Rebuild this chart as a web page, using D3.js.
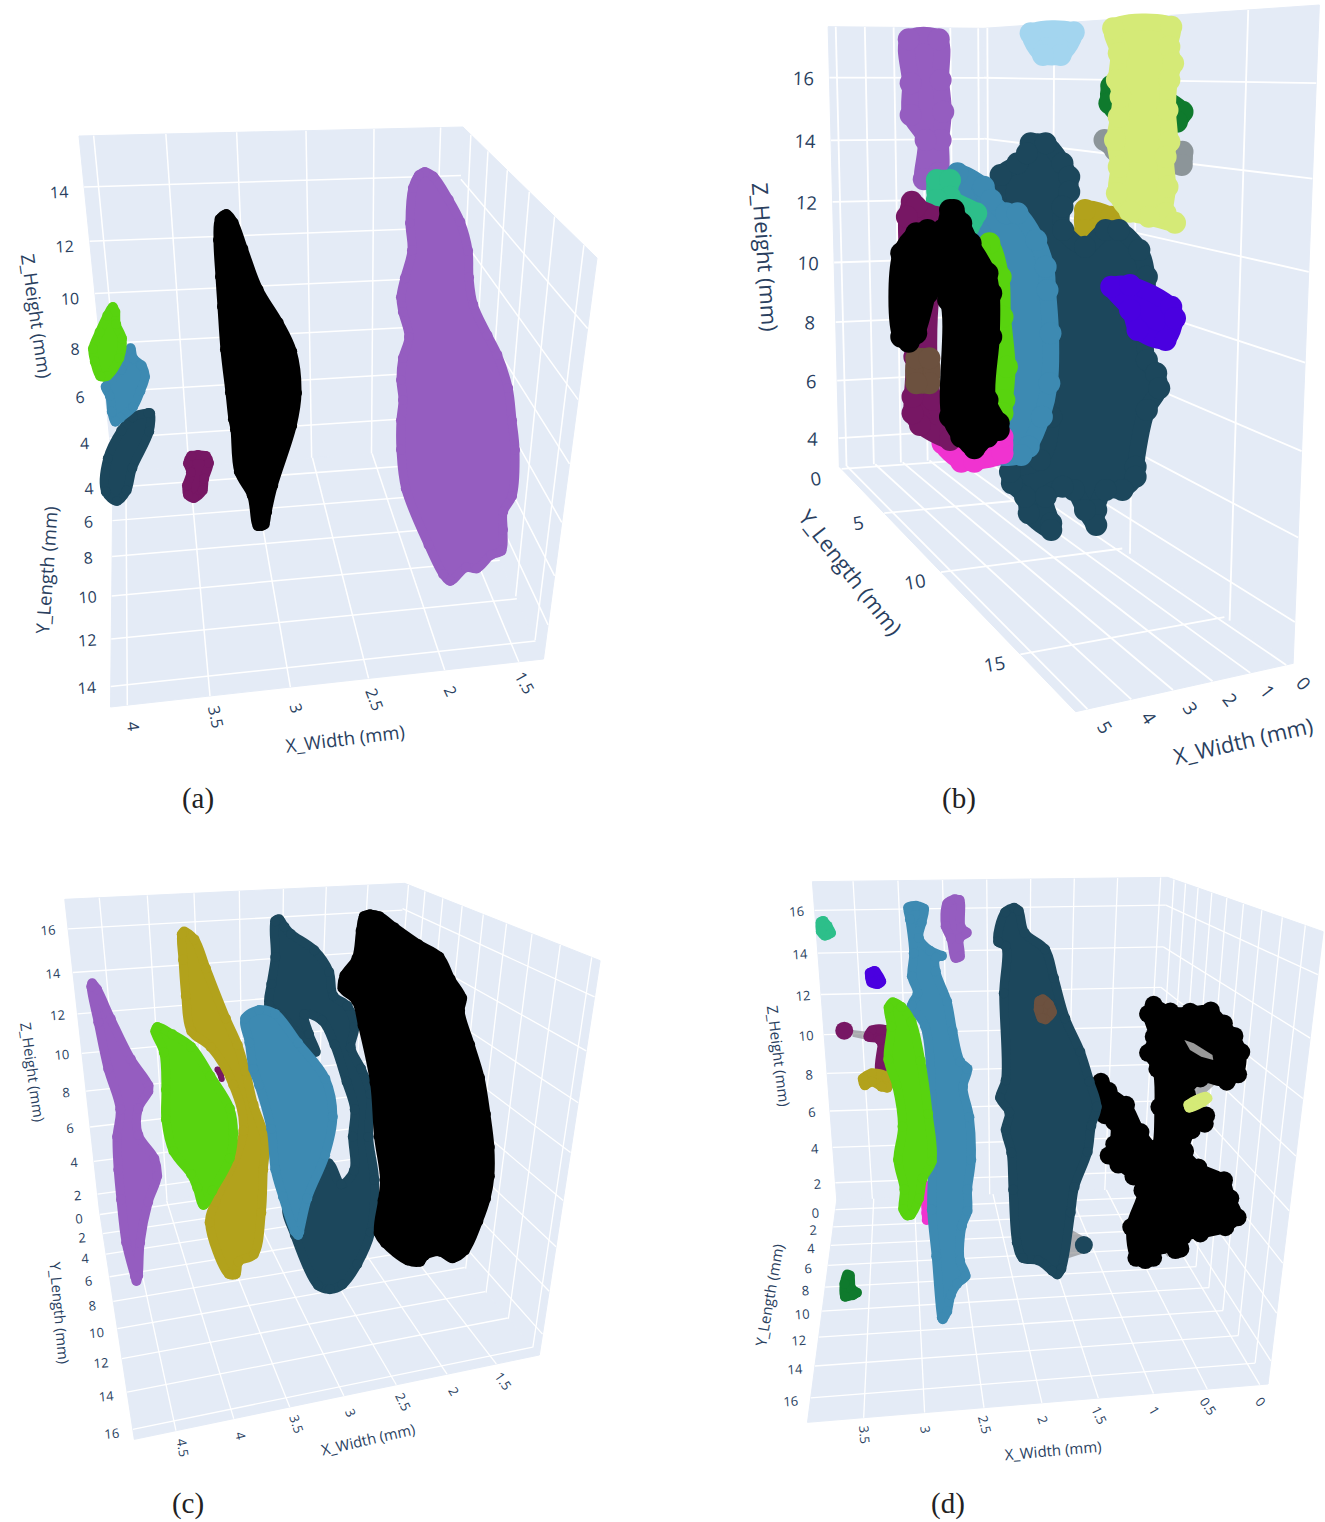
<!DOCTYPE html>
<html>
<head>
<meta charset="utf-8">
<style>
  body { margin: 0; background: #fff; }
  svg { display: block; }
  text { font-family: "Open Sans", sans-serif; fill: #2a3f5f; }
  .caption { font-family: "Liberation Serif", serif; fill: #222; font-size: 29px; }
</style>
<script src="https://cdn.jsdelivr.net/npm/d3@7"></script>
</head>
<body>
<div id="chart"></div>
<script>
// tick values, one list per axis
var xTicksA = [4, 3.5, 3, 2.5, 2, 1.5]
var yTicksA = [4, 6, 8, 10, 12, 14]
var zTicksA = [4, 6, 8, 10, 12, 14]
var xTicksB = [5, 4, 3, 2, 1, 0]
var yTicksB = [0, 5, 10, 15]
var zTicksB = [4, 6, 8, 10, 12, 14, 16]
var xTicksC = [4.5, 4, 3.5, 3, 2.5, 2, 1.5]
var yTicksC = [0, 2, 4, 6, 8, 10, 12, 14, 16]
var zTicksC = [2, 4, 6, 8, 10, 12, 14, 16]
var xTicksD = [3.5, 3, 2.5, 2, 1.5, 1, 0.5, 0]
var yTicksD = [0, 2, 4, 6, 8, 10, 12, 14, 16]
var zTicksD = [2, 4, 6, 8, 10, 12, 14, 16]

// colours of the clusters
var purple = "#955dc0", black = "#000000", lime = "#58d30f", blue = "#3d8ab2", navy = "#1c475c"
var maroon = "#771764", olive = "#b2a21c", teal = "#2dbf8a", pale = "#d5ea77", sky = "#a3d5ef"
var forest = "#0f7a2d", grey = "#8c9599", indigo = "#4a00e0", brown = "#6c513f", magenta = "#f033d0"

// cluster outlines (panel a in page pixels)
var purpleA = [[425,167],[437,173],[453,197],[465,220],[473,250],[474,277],[478,303],[492,333],[502,353],[513,387],[517,420],[520,450],[517,497],[508,513],[508,530],[506,553],[494,559],[479,573],[468,572],[451,586],[439,577],[424,547],[401,490],[396,450],[396,420],[398,400],[396,380],[398,357],[404,337],[398,313],[396,297],[400,277],[407,250],[405,223],[408,187],[415,172]]
var blackA = [[227,209],[238,220],[248,247],[263,287],[283,320],[297,350],[302,393],[297,427],[278,487],[272,513],[269,527],[262,531],[253,528],[247,497],[234,473],[230,430],[228,420],[225,393],[220,350],[217,307],[215,277],[213,240],[215,217]]
var limeA = [[112,302],[120,310],[121,323],[127,338],[124,360],[110,380],[97,380],[90,363],[88,348],[95,330],[103,313]]
var blueA = [[128,344],[137,355],[146,363],[150,377],[145,393],[137,410],[123,422],[113,426],[107,413],[105,397],[101,385],[117,367]]
var navyA = [[155,412],[148,408],[130,413],[117,428],[103,457],[101,493],[117,506],[131,493],[137,470],[154,433]]
var maroonA = [[198,450],[209,452],[214,463],[209,480],[207,493],[195,503],[184,498],[182,485],[186,472],[183,463],[188,452]]

// panel b, reading units of the upper right crop, marker centres
var purpleB = [[450,118],[530,118],[535,240],[542,335],[535,420],[530,520],[490,538],[495,420],[455,345],[455,250]]
var skyB = [[775,100],[890,97],[855,165],[808,165]]
var forestB = [[990,258],[1050,258],[1180,335],[1165,365],[1010,345],[985,310]]
var greyB = [[972,420],[1180,455],[1178,495],[1000,450]]
var paleB = [[995,85],[1150,80],[1145,140],[1155,190],[1145,240],[1140,330],[1145,425],[1135,470],[1140,560],[1135,640],[1160,668],[1090,650],[1040,635],[1005,580],[1010,500],[1000,420],[1010,350],[1015,290],[1005,240],[1010,160]]
var goldB = [[920,630],[990,650],[1000,680],[920,690]]
var navyB = [[775,430],[815,430],[860,490],[878,530],[878,575],[860,620],[862,690],[920,740],[975,690],[1010,690],[1065,750],[1085,830],[1085,1080],[1110,1120],[1118,1165],[1085,1230],[1055,1400],[1055,1430],[1020,1470],[975,1470],[950,1530],[950,1575],[920,1530],[890,1470],[860,1460],[815,1490],[830,1570],[830,1590],[770,1540],[760,1490],[725,1450],[720,1415],[800,1380],[830,1250],[720,700],[690,625],[695,525],[740,490],[765,460]]
var blueB = [[580,520],[650,560],[670,600],[710,640],[740,640],[790,720],[815,800],[820,870],[828,1000],[825,1150],[805,1250],[770,1340],[750,1365],[680,1365],[650,1300],[640,700]]
var tealB = [[525,540],[560,540],[560,590],[630,640],[610,680],[525,600]]
var indigoB = [[990,860],[1040,855],[1150,920],[1160,955],[1135,1020],[1060,990],[1040,930]]
var magentaB = [[540,1330],[590,1385],[625,1385],[700,1360],[700,1310],[600,1300]]
var maroonB = [[458,605],[470,620],[520,650],[530,800],[510,880],[515,1200],[560,1300],[560,1320],[480,1275],[460,1240],[460,1190],[465,1070],[445,650]]
var brownB = [[470,1075],[505,1075],[505,1150],[470,1150]]
var limeB = [[665,730],[695,830],[700,950],[712,1100],[705,1200],[700,1240],[650,1200],[640,750]]
var blackB = [[570,630],[590,670],[615,730],[660,820],[670,880],[670,1010],[660,1200],[690,1270],[690,1290],[660,1310],[625,1345],[590,1310],[560,1250],[555,900],[510,830],[500,880],[470,1000],[450,1025],[430,1010],[430,760],[470,700],[500,690],[540,690],[560,630]]

// panel c, reading units of the lower left crop
var purpleC = [[232,325],[255,350],[290,440],[340,560],[385,640],[385,670],[360,720],[360,790],[400,860],[408,920],[385,1000],[365,1120],[360,1220],[345,1248],[328,1225],[305,1120],[292,990],[285,900],[282,800],[290,720],[260,600],[235,460],[217,350]]
var oliveC = [[465,170],[500,200],[530,290],[580,440],[610,520],[630,600],[650,700],[680,810],[675,900],[670,1030],[650,1160],[610,1185],[600,1225],[565,1220],[515,1060],[530,990],[600,780],[575,650],[520,540],[470,490],[455,380],[448,270],[445,190]]
var maroonC = [[540,595],[560,595],[565,630],[550,625]]
var limeC = [[395,456],[440,480],[490,520],[540,610],[590,710],[600,790],[590,870],[545,970],[510,1020],[485,960],[470,920],[425,850],[405,750],[405,660],[400,550],[378,485]]
var navyC = [[705,133],[725,160],[740,180],[800,230],[840,300],[850,370],[885,400],[905,470],[895,530],[920,590],[945,670],[940,800],[955,930],[945,1090],[910,1190],[870,1255],[830,1273],[790,1255],[730,1100],[710,1000],[780,900],[830,865],[865,930],[878,900],[875,800],[880,720],[860,640],[830,530],[800,460],[778,438],[790,490],[790,560],[700,450],[665,410],[670,340],[680,260],[680,150]]
var blueC = [[650,405],[700,420],[760,510],[830,620],[850,740],[830,860],[785,990],[765,1090],[750,1110],[730,1090],[700,985],[680,900],[670,780],[640,650],[625,600],[615,520],[605,440]]
var blackC = [[930,118],[960,125],[1000,160],[1060,210],[1115,250],[1145,320],[1175,380],[1170,420],[1195,520],[1220,620],[1235,730],[1245,830],[1245,920],[1235,990],[1215,1060],[1180,1150],[1140,1180],[1105,1160],[1075,1170],[1060,1190],[1020,1185],[960,1130],[940,1090],[950,990],[955,930],[940,800],[930,640],[900,470],[885,400],[850,360],[855,310],[885,260],[895,180],[905,130]]

// panel d, reading units of the lower right crop
var tealD = [[225,168],[245,190],[255,225],[225,242],[203,220],[203,180]]
var indigoD = [[355,318],[372,325],[390,365],[370,387],[340,377],[333,335]]
var purpleD = [[570,103],[598,115],[603,200],[618,220],[598,240],[598,297],[565,304],[550,240],[535,200],[540,125]]
var blueD = [[470,122],[503,140],[498,190],[490,230],[515,260],[550,280],[535,298],[535,330],[565,420],[580,510],[600,600],[620,625],[608,680],[625,770],[630,900],[620,990],[620,1055],[605,1100],[600,1200],[615,1250],[590,1280],[575,1310],[565,1360],[545,1392],[525,1375],[510,1190],[498,1050],[500,900],[480,500],[445,440],[460,400],[445,350],[450,280],[440,180],[437,135]]
var limeD = [[405,412],[440,430],[470,480],[495,600],[515,760],[525,905],[500,960],[490,1020],[465,1075],[440,1080],[422,1050],[425,990],[408,900],[420,800],[405,680],[382,600],[390,500],[383,440]]
var magentaD = [[490,1000],[505,970],[510,1060],[498,1095],[488,1060]]
var maroonD = [[345,498],[395,498],[395,540],[385,640],[365,640],[360,545],[330,535]]
var oliveD = [[315,650],[350,625],[400,640],[405,690],[375,695],[350,680],[325,688]]
var navyD = [[730,128],[755,145],[770,210],[825,260],[850,350],[880,470],[920,570],[945,660],[965,740],[950,800],[940,880],[905,985],[895,1060],[870,1230],[850,1258],[825,1245],[790,1215],[745,1205],[725,1150],[715,990],[710,880],[695,810],[705,760],[680,715],[695,660],[690,400],[695,260],[675,245],[695,150]]
var brownD = [[810,403],[835,425],[845,460],[820,492],[795,485],[783,450],[787,415]]
var blackD = [[950,660],[990,680],[1040,725],[1080,810],[1095,860],[1105,740],[1100,630],[1075,580],[1090,530],[1075,460],[1100,420],[1150,440],[1200,440],[1260,437],[1300,480],[1330,520],[1350,575],[1340,650],[1300,680],[1230,670],[1205,700],[1255,760],[1250,800],[1215,820],[1200,870],[1230,910],[1300,950],[1320,1010],[1340,1075],[1300,1115],[1230,1135],[1190,1140],[1185,1175],[1160,1185],[1130,1170],[1110,1205],[1080,1215],[1045,1200],[1030,1100],[1060,990],[1040,960],[1000,925],[970,890],[985,850],[985,790],[960,770]]
var paleD = [[1185,725],[1240,695],[1260,715],[1240,740],[1195,758]]
var forestD = [[290,1230],[305,1240],[310,1280],[325,1300],[305,1320],[270,1320],[265,1270],[275,1235]]
var navyDotD = [917, 1155]
var maroonDotD = [278, 512]
var meshD = [[[885,1110],[917,1130],[917,1180],[875,1195]], [[1205,680],[1275,665],[1240,700],[1200,710]], [[300,510],[340,515],[340,540],[300,530]], [[1130,1175],[1210,1135],[1190,1155],[1140,1190]]]
var holeD = [[[1185,540],[1210,550],[1260,585],[1262,600],[1230,590],[1200,570]]]

var panels = [
  { name: "(a)", caption: [198, 798],
    uDomain: [0, 1325], uRange: [0, 1325], vDomain: [0, 1522], vRange: [0, 1522],
    back: [[79,136],[463,127],[450,448],[113,472]], side: [[463,127],[597,258],[543.5,659],[450,448]], floor: [[113,472],[450,448],[543.5,659],[110.5,707]],
    xDomain: [4.1, 1.33], yDomain: [3, 14.8], zDomain: [15.8, 2.5],
    xTicks: xTicksA, yTicks: yTicksA, zTicks: zTicksA,
    xOff: [6, 21], yOff: [-24, 1], zOff: [-25, 5], xAngle: [82, 60], yAngle: -4, zAngle: -3, tickSize: 16, gridWidth: 1.5,
    titles: [["Z_Height (mm)", 37, 316, 82, 18.5], ["Y_Length (mm)", 46, 570, -86, 18.5], ["X_Width (mm)", 345, 738, -7, 18.5]],
    r: 5, bump: 0.5, inset: true,
    blobs: [[navyA, navy], [blueA, blue], [limeA, lime], [maroonA, maroon], [blackA, black], [purpleA, purple]] },
  { name: "(b)", caption: [959, 798],
    uDomain: [0, 1560], uRange: [740, 1325], vDomain: [0, 2430], vRange: [0, 810],
    back: [[235,80],[650,85],[655,1370],[265,1400]], side: [[650,85],[1545,15],[1475,1990],[655,1370]], floor: [[265,1400],[655,1370],[1475,1990],[895,2135]],
    xDomain: [5.26, -0.2], yDomain: [-0.3, 17.6], zDomain: [17.6, 3],
    xTicks: xTicksB, yTicks: yTicksB, zTicks: zTicksB,
    xOff: [18, 18], yOff: [-26, 9], zOff: [-26, 0], xAngle: [58, 50], yAngle: -10, zAngle: 2, tickSize: 18.5, gridWidth: 1.8,
    titles: [["Z_Height (mm)", 766, 257, 86, 22], ["Y_Length (mm)", 851, 572, 52, 22], ["X_Width (mm)", 1243, 740, -13, 22]],
    r: 11, bump: 2.5, inset: false,
    blobs: [[purpleB, purple], [skyB, sky], [forestB, forest], [greyB, grey], [goldB, olive], [paleB, pale], [navyB, navy], [blueB, blue], [tealB, teal], [indigoB, indigo], [magentaB, magenta], [maroonB, maroon], [brownB, brown], [limeB, lime], [blackB, black]] },
  { name: "(c)", caption: [188, 1503],
    uDomain: [0, 1560], uRange: [0, 620], vDomain: [0, 1956], vRange: [870, 1522],
    back: [[163,88],[1018,40],[960,900],[250,1020]], side: [[1018,40],[1510,272],[1357,1455],[960,900]], floor: [[250,1020],[960,900],[1357,1455],[338,1708]],
    xDomain: [4.85, 1.05], yDomain: [-0.5, 16.5], zDomain: [17.3, 1],
    xTicks: xTicksC, yTicks: yTicksC, zTicks: zTicksC,
    xOff: [7, 17], yOff: [-21, 4], zOff: [-20, 1], xAngle: [80, 55], yAngle: -5, zAngle: -5, tickSize: 13, gridWidth: 1.3,
    titles: [["Z_Height (mm)", 33, 1072, 82, 14.8], ["Y_Length (mm)", 60, 1313, 85, 14.8], ["X_Width (mm)", 368, 1439, -13, 14.8]],
    r: 5, bump: 0.5, inset: true,
    blobs: [[purpleC, purple], [maroonC, maroon, 3], [oliveC, olive], [navyC, navy], [blackC, black], [blueC, blue], [limeC, lime]] },
  { name: "(d)", caption: [948, 1503],
    uDomain: [0, 1560], uRange: [740, 1325], vDomain: [0, 1986], vRange: [860, 1522],
    back: [[193,65],[1140,52],[1090,985],[258,1020]], side: [[1140,52],[1555,215],[1408,1572],[1090,985]], floor: [[258,1020],[1090,985],[1408,1572],[180,1687]],
    xDomain: [3.95, -0.08], yDomain: [-1.2, 17.4], zDomain: [17.3, 1],
    xTicks: xTicksD, yTicks: yTicksD, zTicks: zTicksD,
    xOff: [1, 17], yOff: [-20, 3], zOff: [-18, 1], xAngle: [85, 50], yAngle: -4, zAngle: -4, tickSize: 13, gridWidth: 1.3,
    titles: [["Z_Height (mm)", 779, 1056, 83, 15], ["Y_Length (mm)", 769, 1295, -80, 15], ["X_Width (mm)", 1053, 1450, -5, 15]],
    r: 5, bump: 0.5, inset: true,
    mesh: meshD, dots: [[navyDotD, navy], [maroonDotD, maroon]], holes: holeD,
    blobs: [[tealD, teal], [indigoD, indigo], [purpleD, purple], [maroonD, maroon], [oliveD, olive], [forestD, forest], [magentaD, magenta], [blueD, blue], [limeD, lime], [blackD, black, 9, 4], [navyD, navy], [brownD, brown], [paleD, pale]] }
]

// unit square to quad, so that the grid keeps its perspective
function quadMap(q) {
    var x0 = q[0][0], y0 = q[0][1], x1 = q[1][0], y1 = q[1][1], x2 = q[2][0], y2 = q[2][1], x3 = q[3][0], y3 = q[3][1]
    var dx1 = x1 - x2, dx2 = x3 - x2, dx3 = x0 - x1 + x2 - x3
    var dy1 = y1 - y2, dy2 = y3 - y2, dy3 = y0 - y1 + y2 - y3
    var det = dx1 * dy2 - dx2 * dy1
    var g = (dx3 * dy2 - dx2 * dy3) / det
    var h = (dx1 * dy3 - dx3 * dy1) / det
    var a = x1 - x0 + g * x1, b = x3 - x0 + h * x3
    var d = y1 - y0 + g * y1, e = y3 - y0 + h * y3
    return function (s, t) {
        var w = g * s + h * t + 1
        return [(a * s + b * t + x0) / w, (d * s + e * t + y0) / w]
    }
}

// move outline vertices inward so that the markers end on the outline
function insetOutline(pts, r) {
    var sign = d3.polygonArea(pts) > 0 ? -1 : 1
    return pts.map(function (p, i) {
        var prev = pts[(i - 1 + pts.length) % pts.length], next = pts[(i + 1) % pts.length]
        var tx = next[0] - prev[0], ty = next[1] - prev[1]
        var len = Math.hypot(tx, ty) || 1
        return [p[0] - sign * ty / len * r, p[1] + sign * tx / len * r]
    })
}

var outlinePath = d3.line().curve(d3.curveCatmullRomClosed.alpha(0.5))

var svg = d3.select("#chart").append("svg")
    .attr("width", 1325)
    .attr("height", 1522)

panels.forEach(function (p) {
    var u = d3.scaleLinear().domain(p.uDomain).range(p.uRange)
    var v = d3.scaleLinear().domain(p.vDomain).range(p.vRange)
    var toPage = function (d) { return [u(d[0]), v(d[1])] }
    var back = p.back.map(toPage), side = p.side.map(toPage), floor = p.floor.map(toPage)
    var g = svg.append("g")

    var sx = d3.scaleLinear().domain(p.xDomain).range([0, 1])
    var sy = d3.scaleLinear().domain(p.yDomain).range([0, 1])
    var sz = d3.scaleLinear().domain(p.zDomain).range([0, 1])
    var mapBack = quadMap(back), mapSide = quadMap(side), mapFloor = quadMap(floor)

    // walls and floor
    g.selectAll(".wall").data([back, side, floor]).enter().append("polygon")
        .attr("points", function (d) { return d.join(" ") })
        .attr("fill", "#e4ebf6")
        .attr("stroke", "#e4ebf6")
        .attr("stroke-width", 1)

    // grid
    var segs = []
    p.xTicks.forEach(function (t) {
        segs.push([mapBack(sx(t), 0), mapBack(sx(t), 1)])
        segs.push([mapFloor(sx(t), 0), mapFloor(sx(t), 1)])
    })
    p.yTicks.forEach(function (t) {
        segs.push([mapSide(sy(t), 0), mapSide(sy(t), 1)])
        segs.push([mapFloor(0, sy(t)), mapFloor(1, sy(t))])
    })
    p.zTicks.forEach(function (t) {
        segs.push([mapBack(0, sz(t)), mapBack(1, sz(t))])
        segs.push([mapSide(0, sz(t)), mapSide(1, sz(t))])
    })
    g.append("g").selectAll("path").data(segs).enter().append("path")
        .attr("d", d3.line())
        .attr("fill", "none")
        .attr("stroke", "#fff")
        .attr("stroke-width", p.gridWidth)

    // tick labels
    var angle = d3.scaleLinear().domain([0, p.xTicks.length - 1]).range(p.xAngle)
    function ticks(list, pos, off, rot) {
        g.append("g").selectAll("text").data(list).enter().append("text")
            .attr("transform", function (d, i) {
                var q = pos(d)
                return "translate(" + (q[0] + off[0]) + "," + (q[1] + off[1]) + ") rotate(" + rot(i) + ")"
            })
            .attr("text-anchor", "middle")
            .attr("dominant-baseline", "central")
            .attr("font-size", p.tickSize)
            .text(function (d) { return d })
    }
    ticks(p.xTicks, function (t) { return mapFloor(sx(t), 1) }, p.xOff, angle)
    ticks(p.yTicks, function (t) { return mapFloor(0, sy(t)) }, p.yOff, function () { return p.yAngle })
    ticks(p.zTicks, function (t) { return mapBack(0, sz(t)) }, p.zOff, function () { return p.zAngle })

    // axis titles
    g.append("g").selectAll("text").data(p.titles).enter().append("text")
        .attr("transform", function (d) { return "translate(" + d[1] + "," + d[2] + ") rotate(" + d[3] + ")" })
        .attr("text-anchor", "middle")
        .attr("dominant-baseline", "central")
        .attr("font-size", function (d) { return d[4] })
        .text(function (d) { return d[0] })

    // faint mesh between clusters
    if (p.mesh) {
        g.append("g").selectAll("polygon").data(p.mesh).enter().append("polygon")
            .attr("points", function (d) { return d.map(toPage).join(" ") })
            .attr("fill", "#777")
            .attr("opacity", 0.55)
    }

    // clusters: filled outline with the round markers along it
    p.blobs.forEach(function (b) {
        var r = b[2] || p.r
        var over = b[3] || 0 // markers that stick out past the outline
        var pts = b[0].map(toPage)
        if (p.inset) pts = insetOutline(pts, r - over)
        var blob = g.append("g").attr("fill", b[1])
        blob.append("path")
            .attr("d", outlinePath(pts))
            .attr("stroke", b[1])
            .attr("stroke-linejoin", "round")
            .attr("stroke-width", 2 * (r - Math.max(over, p.bump)))
        blob.selectAll("circle").data(pts).enter().append("circle")
            .attr("cx", function (d) { return d[0] })
            .attr("cy", function (d) { return d[1] })
            .attr("r", r)
    })

    if (p.dots) {
        g.append("g").selectAll("circle").data(p.dots).enter().append("circle")
            .attr("cx", function (d) { return u(d[0][0]) })
            .attr("cy", function (d) { return v(d[0][1]) })
            .attr("r", 9)
            .attr("fill", function (d) { return d[1] })
    }

    if (p.holes) {
        g.append("g").selectAll("polygon").data(p.holes).enter().append("polygon")
            .attr("points", function (d) { return d.map(toPage).join(" ") })
            .attr("fill", "#999")
    }

    g.append("text")
        .attr("class", "caption")
        .attr("x", p.caption[0])
        .attr("y", p.caption[1])
        .attr("text-anchor", "middle")
        .attr("dominant-baseline", "central")
        .text(p.name)
})
</script>
</body>
</html>
